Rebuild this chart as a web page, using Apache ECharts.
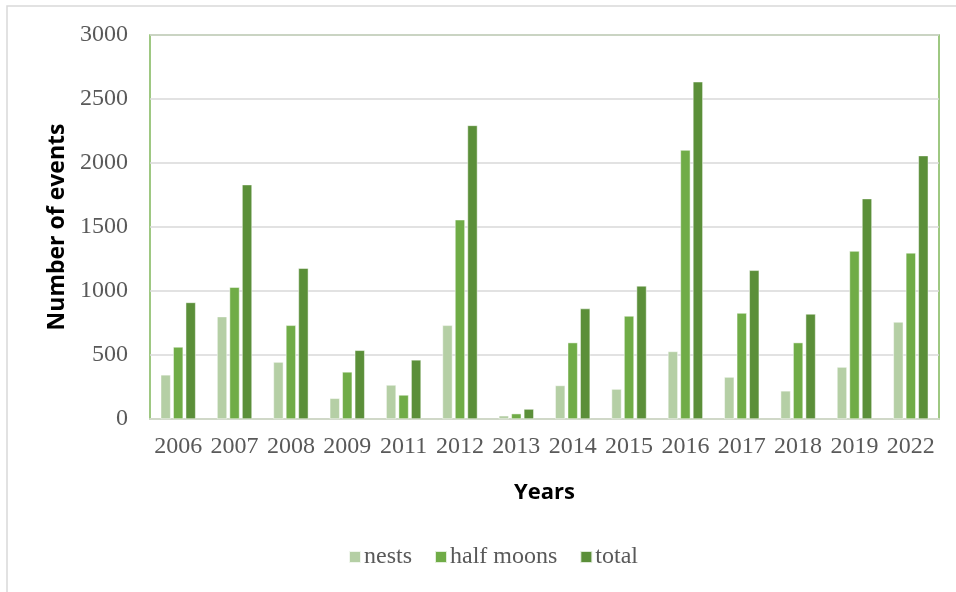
<!DOCTYPE html>
<html><head><meta charset="utf-8">
<script src="https://cdn.jsdelivr.net/npm/echarts@6/dist/echarts.min.js"></script>
<style>html,body{margin:0;padding:0;background:#fff}#c{width:956px;height:592px}</style>
</head><body><div id="c"></div>
<script>
const years = ['2006','2007','2008','2009','2011','2012','2013','2014','2015','2016','2017','2018','2019','2022'];
const nests = [345, 800, 445, 162, 266, 732, 26, 262, 234, 528, 328, 220, 406, 758];
const halfMoons = [563, 1030, 732, 368, 188, 1557, 42, 597, 805, 2101, 828, 597, 1312, 1298];
const total = [911, 1831, 1178, 537, 462, 2294, 78, 863, 1040, 2635, 1162, 821, 1722, 2058];
const yTicks = {min: 0, max: 3000, interval: 500};

const chart = echarts.init(document.getElementById('c'), null, {renderer: 'canvas'});
const serif = '"Liberation Serif", "Times New Roman", serif';
const sans = '"Open Sans", "Liberation Sans", sans-serif';
const barStyle = c => ({color: c, borderColor: 'rgba(255,255,255,0.8)', borderWidth: 0.6});
chart.setOption({
  animation: false,
  backgroundColor: '#fff',
  graphic: [{type: 'rect', shape: {x: 7, y: 6, width: 1000, height: 1000}, style: {fill: 'none', stroke: '#d9d9d9', lineWidth: 1.5}, silent: true, z: -10}],
  grid: {left: 150, top: 35, right: 17, bottom: 173, show: true, borderColor: '#7fb65a', borderWidth: 1.5, backgroundColor: 'transparent'},
  legend: {
    bottom: 18, left: 343, itemWidth: 12, itemHeight: 12, itemGap: 22,
    icon: 'rect',
    textStyle: {fontFamily: serif, fontSize: 24, color: '#595959', padding: [0, 0, 0, -2]},
    data: ['nests', 'half moons', 'total']
  },
  xAxis: {
    type: 'category', data: years,
    name: 'Years', nameLocation: 'middle', nameGap: 63,
    nameTextStyle: {fontFamily: sans, fontWeight: 'bold', fontSize: 22, color: '#000'},
    axisLine: {lineStyle: {color: '#d0d8c8', width: 2}},
    axisTick: {show: false},
    axisLabel: {fontFamily: serif, fontSize: 24, color: '#595959', margin: 16, interval: 0}
  },
  yAxis: {
    type: 'value', min: yTicks.min, max: yTicks.max, interval: yTicks.interval,
    name: 'Number of events', nameLocation: 'middle', nameGap: 75, nameRotate: 90,
    nameTextStyle: {fontFamily: sans, fontWeight: 'bold', fontSize: 23, color: '#000'},
    axisLine: {show: false}, axisTick: {show: false},
    axisLabel: {fontFamily: serif, fontSize: 24, color: '#595959', margin: 22, formatter: v => String(v)},
    splitLine: {lineStyle: {color: '#d9d9d9', width: 1.5}}
  },
  series: [
    {name: 'nests', type: 'bar', data: nests, barWidth: 10, barGap: '25%', itemStyle: barStyle('#b5cfa5')},
    {name: 'half moons', type: 'bar', data: halfMoons, barWidth: 10, barGap: '25%', itemStyle: barStyle('#70ac47')},
    {name: 'total', type: 'bar', data: total, barWidth: 10, barGap: '25%', itemStyle: barStyle('#5b8f39')}
  ]
});
</script></body></html>
